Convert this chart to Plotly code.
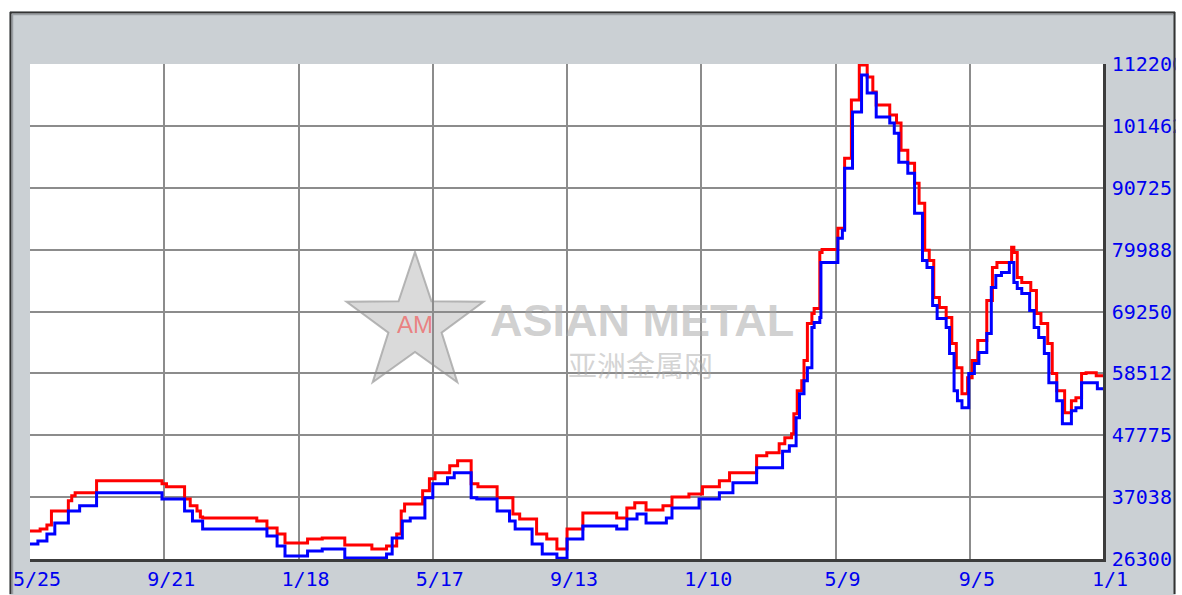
import math
import plotly.graph_objects as go

# ---------------- data (day offsets from 5/25, step change points) ----------------
TICK_DAYS = [0, 119, 238, 357, 476, 595, 714, 833, 951]
TICK_LABELS = ["5/25", "9/21", "1/18", "5/17", "9/13", "1/10", "5/9", "9/5", "1/1"]
Y_TICKS = [26300, 37037.5, 47775, 58512.5, 69250, 79987.5, 90725, 101462.5, 112200]
Y_LABELS = ["26300", "37038", "47775", "58512", "69250", "79988", "90725", "101462", "112200"]

RED_DAY = [0, 9, 15, 19, 34, 37, 40, 59, 117, 121,
           137, 142, 148, 151, 153, 201, 210, 219, 226, 246,
           259, 279, 303, 316, 325, 329, 332, 348, 354, 359,
           372, 379, 391, 397, 414, 428, 434, 449, 458, 467,
           476, 490, 520, 529, 536, 546, 561, 569, 584, 596,
           611, 620, 644, 653, 664, 669, 675, 677, 680, 684,
           686, 689, 693, 695, 700, 702, 716, 722, 728, 735,
           742, 747, 750, 762, 768, 772, 778, 784, 788, 793,
           797, 801, 806, 812, 817, 821, 826, 831, 835, 840,
           848, 853, 857, 870, 872, 875, 879, 887, 892, 896,
           902, 906, 910, 917, 923, 927, 932, 936, 945, 951]
RED_VAL = [31170, 31520, 32210, 34650, 36390, 37260, 37780, 39860, 39340, 38820,
           36730, 35520, 34650, 33600, 33430, 32910, 31690, 30650, 29080, 29780,
           29950, 28730, 28040, 28560, 30650, 34650, 35860, 38130, 40210, 41250,
           42470, 43340, 39340, 38820, 36910, 34130, 33260, 30650, 29780, 28040,
           31520, 34300, 33430, 35170, 36040, 34820, 35520, 37080, 37600, 38820,
           39860, 41250, 44210, 44730, 46300, 47340, 48040, 51510, 55510, 57250,
           60730, 67160, 68900, 69770, 79510, 80030, 83680, 95860, 105940, 112030,
           109940, 107330, 105070, 103330, 101940, 97250, 94990, 91510, 88030, 79860,
           78120, 71690, 69950, 68210, 63690, 59510, 54990, 57770, 60730, 64210,
           71160, 76900, 77770, 80380, 79510, 75160, 74290, 72900, 68900, 67160,
           63690, 58470, 55510, 51690, 53780, 54300, 58470, 58640, 58120, 58120]

BLUE_DAY = [0, 7, 15, 22, 34, 44, 59, 117, 137, 144,
            153, 210, 219, 226, 246, 259, 279, 316, 321, 330,
            337, 350, 357, 370, 376, 391, 396, 414, 425, 430,
            445, 454, 467, 476, 490, 520, 529, 538, 546, 564,
            569, 593, 611, 623, 644, 667, 673, 679, 682, 686,
            689, 693, 695, 700, 701, 716, 720, 722, 729, 737,
            742, 750, 762, 766, 770, 778, 784, 791, 795, 800,
            804, 812, 815, 819, 822, 826, 832, 837, 841, 848,
            852, 856, 861, 868, 872, 875, 879, 886, 890, 894,
            899, 903, 910, 915, 923, 927, 932, 946, 951]
BLUE_VAL = [28910, 29430, 30650, 32560, 34650, 35520, 37780, 36730, 34650, 32910,
            31520, 30300, 28560, 26820, 27690, 28040, 26470, 27170, 29950, 32910,
            33430, 36910, 39340, 40390, 41250, 36910, 36730, 34650, 32910, 31520,
            28910, 27170, 26450, 29780, 32040, 31520, 33260, 34130, 32560, 33430,
            35170, 36730, 37780, 39520, 42120, 45000, 45950, 50820, 54990, 57250,
            59510, 66470, 67340, 68210, 77770, 81940, 83340, 94120, 103850, 110290,
            107150, 102990, 101940, 100200, 95160, 93250, 86290, 78120, 76900, 70290,
            68030, 66470, 61950, 55510, 53780, 52560, 58470, 60210, 62120, 65430,
            73420, 75510, 76030, 77770, 74290, 73250, 72380, 69420, 66470, 64730,
            61950, 56900, 53780, 49780, 52040, 52560, 56900, 55860, 55860]

assert len(RED_DAY) == len(RED_VAL)
assert len(BLUE_DAY) == len(BLUE_VAL)

# ---------------- layout geometry (pixels) ----------------
FW, FH = 1182, 595
L, R, T, B = 30, 1103, 64, 559
W, H = R - L, B - T


def px(x):
    return (x - L) / W


def py(y):
    return (B - y) / H


FRAME = "#CBD0D4"
BLUE_TXT = "#0000F0"

fig = go.Figure()
fig.add_trace(go.Scatter(x=RED_DAY, y=RED_VAL, mode="lines",
                         line=dict(color="#FF0000", width=3, shape="hv"),
                         hoverinfo="skip", showlegend=False))
fig.add_trace(go.Scatter(x=BLUE_DAY, y=BLUE_VAL, mode="lines",
                         line=dict(color="#0000FF", width=3, shape="hv"),
                         hoverinfo="skip", showlegend=False))

shapes = []
# watermark star
cx, cy, ro, ri = 415, 324, 72, 28
pts = []
for k in range(10):
    ang = math.radians(-90 + 36 * k)
    r = ro if k % 2 == 0 else ri
    pts.append((cx + r * math.cos(ang), cy + r * math.sin(ang)))
path = "M " + " L ".join(f"{px(a):.5f},{py(b):.5f}" for a, b in pts) + " Z"
shapes.append(dict(type="path", xref="paper", yref="paper", path=path,
                   fillcolor="rgba(205,205,205,0.75)",
                   line=dict(color="rgba(165,165,165,0.8)", width=2), layer="below"))

# outer white page margins + frame border (kept inside the 1182x595 page)
for x0, x1, y0, y1 in [(0, 9.5, 0, FH), (0, FW, 0, 11.5), (1175.5, FW, 0, FH)]:
    shapes.append(dict(type="rect", xref="paper", yref="paper",
                       x0=px(x0), x1=px(x1), y0=py(y1), y1=py(y0),
                       fillcolor="white", line=dict(width=0), layer="above"))
for (x0, y0, x1, y1, c, w) in [
    (10.5, 12, 10.5, FH - 1, "#333333", 2), (10, 12.5, 1175, 12.5, "#333333", 2),
    (1174.5, 12, 1174.5, FH - 1, "#333333", 2),
    (12.5, 14, 12.5, FH - 1, "#9a9ea2", 1.5), (12, 14.5, 1173, 14.5, "#9a9ea2", 1.5),
]:
    shapes.append(dict(type="line", xref="paper", yref="paper",
                       x0=px(x0), x1=px(x1), y0=py(y0), y1=py(y1),
                       line=dict(color=c, width=w), layer="above"))

annotations = [
    dict(text="<b>ASIAN METAL</b>", x=px(642), y=py(320), xref="paper", yref="paper",
         showarrow=False, font=dict(family="Liberation Sans", size=45, color="rgba(170,170,170,0.55)")),
    dict(text="亚洲金属网", x=px(640), y=py(364), xref="paper", yref="paper",
         showarrow=False, font=dict(family="Noto Sans CJK SC", size=29, color="rgba(170,170,170,0.5)")),
    dict(text="AM", x=px(415), y=py(324), xref="paper", yref="paper",
         showarrow=False, font=dict(family="Liberation Sans", size=24, color="rgba(240,90,90,0.7)")),
]

fig.update_layout(
    width=FW, height=FH,
    margin=dict(l=L, r=FW - R, t=T, b=FH - B, pad=0, autoexpand=False),
    paper_bgcolor=FRAME, plot_bgcolor="white",
    showlegend=False,
    shapes=shapes, annotations=annotations,
    xaxis=dict(range=[0, 951], tickmode="array", tickvals=TICK_DAYS, ticktext=TICK_LABELS,
               automargin=False,
               showgrid=True, gridcolor="#8c8c8c", gridwidth=2,
               showline=True, linecolor="#3c3c3c", linewidth=2.5,
               zeroline=False, ticks="", ticklabelshift=7, ticklabelstandoff=0,
               tickfont=dict(family="DejaVu Sans Mono", size=20, color=BLUE_TXT),
               fixedrange=True),
    yaxis=dict(range=[26300, 112200], side="right", tickmode="array",
               tickvals=Y_TICKS, ticktext=Y_LABELS, automargin=False,
               showgrid=True, gridcolor="#8c8c8c", gridwidth=2,
               showline=True, linecolor="#3c3c3c", linewidth=2.5,
               zeroline=False, ticks="", ticklabelstandoff=2,
               tickfont=dict(family="DejaVu Sans Mono", size=20, color=BLUE_TXT),
               fixedrange=True),
)

PAGE_CSS = ("var s=document.createElement('style');"
            "s.textContent='html,body{margin:0;padding:0;overflow:hidden}"
            " .svg-container,.main-svg{overflow:hidden !important}';"
            "document.head.appendChild(s);")

fig.write_html("out.html", config={"displayModeBar": False}, post_script=PAGE_CSS)
